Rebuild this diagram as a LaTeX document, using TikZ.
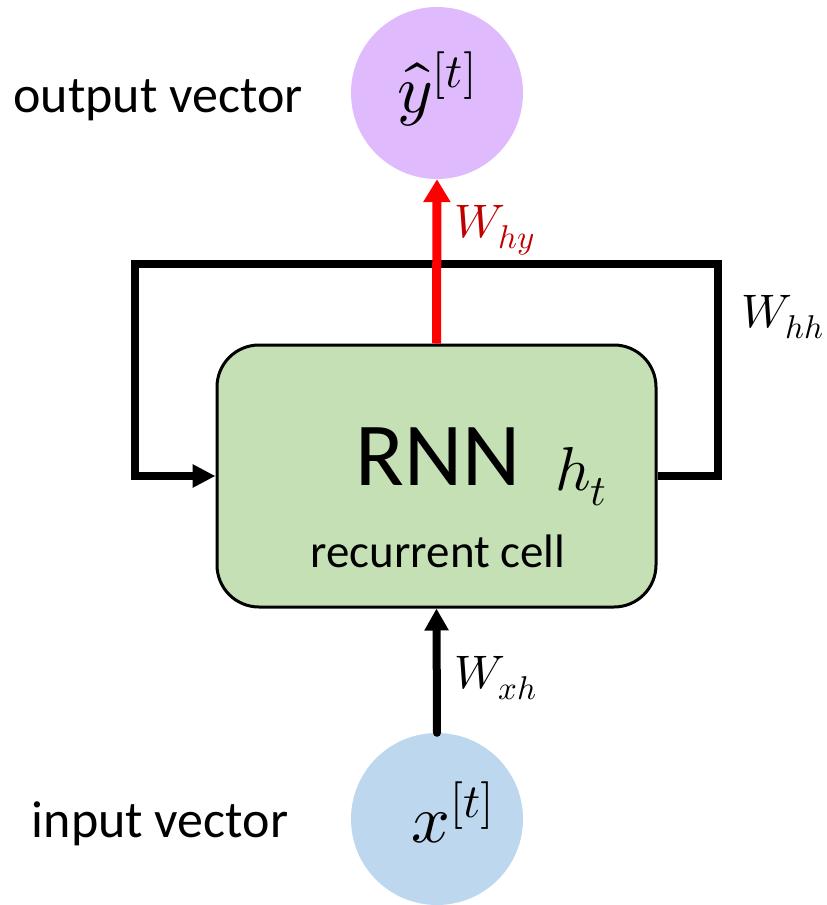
\documentclass[tikz,border=0pt]{standalone}
\usepackage{fontspec}
\usepackage{unicode-math}
\setmainfont{Carlito}
\setmathfont{Latin Modern Math}
\usetikzlibrary{arrows.meta}
\definecolor{cellgreen}{HTML}{C5E0B4}
\definecolor{outpurple}{HTML}{DFBBFE}
\definecolor{inblue}{HTML}{BDD7EE}
\definecolor{darkred}{HTML}{C00000}
\tikzset{
  cellbox/.style={draw=black, line width=3pt, fill=cellgreen, rounded corners=42pt,
    minimum width=439pt, minimum height=262pt, inner sep=0pt},
  vecnode/.style={circle, draw=none, minimum size=172pt, inner sep=0pt},
  loopline/.style={line width=7.5pt, line join=miter, -{Triangle[length=23pt,width=22pt]}},
  redarrow/.style={line width=9pt, red, -{Triangle[length=23pt,width=26pt]}},
  inarrow/.style={line width=8pt, line cap=round, -{Triangle[length=22pt,width=23pt]}},
  wlabel/.style={inner sep=0pt, anchor=base west, font=\fontsize{47}{54}\selectfont},
  sidetext/.style={inner sep=0pt, anchor=base, font=\fontsize{52}{60}\selectfont},
}
\begin{document}
\begin{tikzpicture}[x=1pt,y=-1pt]
\useasboundingbox (0,0) rectangle (827,905);
% nodes
\node[vecnode, fill=outpurple] (yout) at (437,93) {};
\node[vecnode, fill=inblue] (xin) at (437,819) {};
\node[cellbox] (box) at (436.5,476) {};
% loop
\coordinate (tr) at (718,264);
\coordinate (tl) at (135,264);
\draw[loopline] (box.east) -| (tr) -- (tl) |- (box.west);
% arrows
\draw[redarrow] (box.north) -- (yout.south);
\draw[inarrow] (xin.north) -- (box.south);
% texts in nodes
\node[inner sep=0pt, anchor=base west, font=\fontsize{68}{76}\selectfont] (ylab) at (397,112) {$\hat{y}^{[t]}$};
\node[inner sep=0pt, anchor=base west, font=\fontsize{68}{76}\selectfont] (xlab) at (411,842) {$x^{[t]}$};
\node[inner sep=0pt, anchor=base, font=\fontsize{90}{98}\selectfont] (rnn) at (438,485) {RNN};
\node[inner sep=0pt, anchor=base west, font=\fontsize{62}{70}\selectfont] (ht) at (555,490) {$h_t$};
\node[inner sep=0pt, anchor=base, font=\fontsize{47}{54}\selectfont] (rc) at (438,567) {recurrent cell};
% weight labels
\node[wlabel, text=darkred] (why) at (454,237) {$W_{hy}$};
\node[wlabel] (whh) at (741,327) {$W_{hh}$};
\node[wlabel] (wxh) at (454,688) {$W_{xh}$};
% side texts
\node[sidetext] (outtxt) at (158,112) {output vector};
\node[sidetext] (intxt) at (160,837) {input vector};
\end{tikzpicture}
\end{document}
